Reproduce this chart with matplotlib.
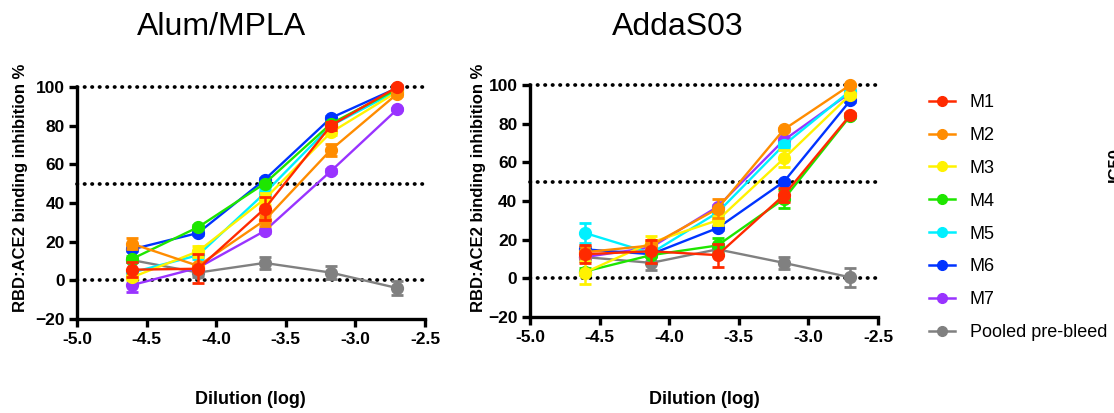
import matplotlib
matplotlib.use("Agg")
import matplotlib.pyplot as plt
from matplotlib.lines import Line2D

plt.rcParams["font.family"] = ["Liberation Sans", "DejaVu Sans"]

# log10 of the serial dilutions (1/40500 ... 1/500)
dilution_log = [-4.607, -4.130, -3.653, -3.176, -2.699]

series = ["M1", "M2", "M3", "M4", "M5", "M6", "M7", "Pooled pre-bleed"]
colors = ["#ff2a00", "#ff8c00", "#fff200", "#1ee600", "#00f0ff", "#0033ff", "#9933ff", "#808080"]

alum_mean = {
    "M1": [5.5, 6.0, 37.0, 80.0, 100.0],
    "M2": [19.0, 7.5, 31.0, 67.5, 96.5],
    "M3": [1.5, 15.0, 42.0, 76.5, 97.5],
    "M4": [11.0, 27.5, 50.0, 81.0, 99.0],
    "M5": [4.0, 13.0, 45.0, 80.0, 98.0],
    "M6": [16.0, 24.5, 52.0, 84.0, 99.5],
    "M7": [-2.5, 6.5, 25.5, 56.5, 88.5],
    "Pooled pre-bleed": [10.5, 4.0, 9.0, 4.0, -4.0],
}
alum_err = {
    "M1": [4.0, 7.5, 6.0, 2.0, 1.0],
    "M2": [3.0, 1.0, 3.0, 3.0, 1.0],
    "M3": [1.5, 3.0, 3.0, 1.5, 1.0],
    "M4": [1.5, 1.0, 1.0, 1.0, 0.5],
    "M5": [1.5, 2.0, 2.0, 1.0, 0.5],
    "M6": [1.0, 1.0, 1.0, 1.0, 0.5],
    "M7": [3.5, 1.0, 1.0, 1.0, 0.5],
    "Pooled pre-bleed": [1.0, 2.5, 3.0, 3.5, 3.5],
}

adda_mean = {
    "M1": [12.5, 14.0, 12.0, 43.0, 84.5],
    "M2": [13.5, 17.0, 36.0, 77.0, 100.0],
    "M3": [3.0, 18.5, 30.0, 62.0, 95.0],
    "M4": [3.5, 12.0, 17.0, 41.0, 84.0],
    "M5": [23.5, 13.0, 34.0, 69.0, 97.0],
    "M6": [15.0, 12.5, 26.0, 50.0, 92.0],
    "M7": [11.0, 16.0, 37.0, 71.5, 96.0],
    "Pooled pre-bleed": [11.0, 8.0, 15.0, 8.0, 0.5],
}
adda_err = {
    "M1": [4.5, 6.0, 6.0, 3.5, 1.0],
    "M2": [3.0, 3.0, 5.0, 1.0, 0.5],
    "M3": [6.0, 3.5, 2.5, 4.5, 1.0],
    "M4": [2.0, 1.0, 4.0, 4.5, 1.0],
    "M5": [5.0, 1.5, 2.0, 1.5, 1.0],
    "M6": [1.0, 1.0, 1.0, 1.0, 1.0],
    "M7": [1.0, 1.0, 1.0, 1.0, 1.0],
    "Pooled pre-bleed": [2.0, 3.5, 3.0, 3.0, 5.0],
}

W, H = 1114, 413
fig = plt.figure(figsize=(W / 100, H / 100), dpi=100)


def px_axes(left, top, right, bottom):
    return fig.add_axes([left / W, 1 - bottom / H, (right - left) / W, (bottom - top) / H])


def draw_panel(ax, means, errs):
    for level in (0, 50, 100):
        ax.axhline(level, color="black", lw=2.7, ls=(0, (0.1, 1.9)),
                   dash_capstyle="round", zorder=1, clip_on=False)
    n = len(series)
    for i, (name, col) in enumerate(zip(series, colors)):
        ax.errorbar(dilution_log, means[name], yerr=errs[name], color=col,
                    marker="o", markersize=8.5, lw=1.7, elinewidth=1.8,
                    capsize=4.5, capthick=2.0, zorder=10 + n - i, clip_on=False)
    ax.set_xlim(-5.0, -2.5)
    ax.set_ylim(-20, 100)
    ax.set_xticks([-5.0, -4.5, -4.0, -3.5, -3.0, -2.5])
    ax.set_xticklabels(["-5.0", "-4.5", "-4.0", "-3.5", "-3.0", "-2.5"])
    ax.set_yticks([-20, 0, 20, 40, 60, 80, 100])
    for s in ("top", "right"):
        ax.spines[s].set_visible(False)
    for s in ("left", "bottom"):
        ax.spines[s].set_linewidth(2.4)
    ax.tick_params(width=2.4, length=6, labelsize=12.5, pad=3)
    for lab in ax.get_xticklabels() + ax.get_yticklabels():
        lab.set_fontweight("bold")
    ax.patch.set_alpha(0)


ax1 = px_axes(77, 87, 425, 319)
draw_panel(ax1, alum_mean, alum_err)
ax2 = px_axes(530, 85, 878, 317)
draw_panel(ax2, adda_mean, adda_err)

# titles
fig.text(222 / W, 1 - 27 / H, "Alum/MPLA", fontsize=23, ha="center", va="center")
fig.text(678 / W, 1 - 27 / H, "AddaS03", fontsize=23, ha="center", va="center")

# axis labels
for xc in (21, 478):
    fig.text(xc / W, 1 - 188 / H, "RBD:ACE2 binding inhibition %", rotation=90,
             fontsize=12, fontweight="bold", ha="center", va="center")
for xc in (250, 704):
    fig.text(xc / W, 1 - 400 / H, "Dilution (log)", fontsize=13,
             fontweight="bold", ha="center", va="center")

# label cut off at the right edge, as in the source figure
fig.text(1108 / W, 1 - 165 / H, "IC50", rotation=90, fontsize=12,
         fontweight="bold", ha="left", va="center")

handles = [Line2D([], [], color=c, lw=1.8, marker="o", markersize=7) for c in colors]
fig.legend(handles, series, loc="upper left", bbox_to_anchor=(929 / W, 1 - 94 / H),
           frameon=False, fontsize=13, handlelength=1.45, handletextpad=0.8,
           labelspacing=0.88, borderpad=0, borderaxespad=0)

fig.savefig("out.png", dpi=100)
